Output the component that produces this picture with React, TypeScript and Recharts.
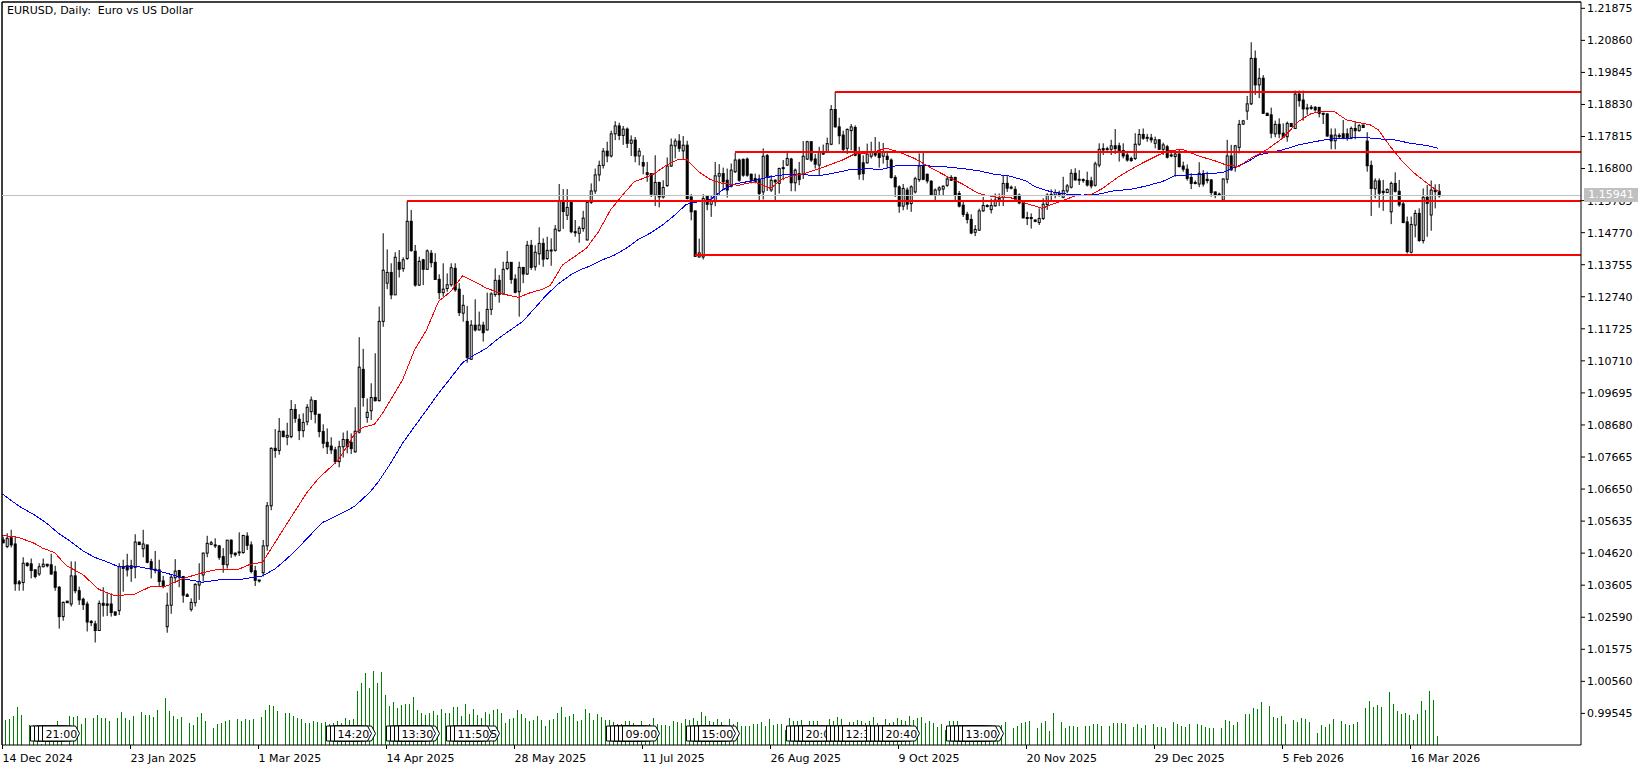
import { Bar, ComposedChart, Line, ReferenceDot, ReferenceLine, XAxis, YAxis } from "recharts"

const FONT = "'DejaVu Sans', sans-serif"

const opens = [
  1.0504,1.0483,1.0511,1.0491,1.0371,1.0369,1.0430,1.0428,1.0409,1.0396,
  1.0419,1.0427,1.0425,1.0403,1.0354,1.0261,1.0310,1.0301,1.0390,1.0343,
  1.0316,1.0301,1.0246,1.0238,1.0217,1.0303,1.0301,1.0301,1.0276,1.0280,
  1.0419,1.0422,1.0422,1.0417,1.0497,1.0476,1.0488,1.0435,1.0411,1.0409,
  1.0374,1.0229,1.0297,1.0384,1.0407,1.0388,1.0330,1.0284,1.0305,1.0361,
  1.0393,1.0462,1.0490,1.0488,1.0485,1.0451,1.0425,1.0503,1.0462,1.0464,
  1.0464,1.0516,1.0488,1.0406,1.0377,1.0400,1.0485,1.0612,1.0794,1.0787,
  1.0848,1.0829,1.0831,1.0917,1.0886,1.0850,1.0878,1.0910,1.0945,1.0902,
  1.0847,1.0813,1.0801,1.0789,1.0752,1.0799,1.0822,1.0813,1.0783,1.0845,
  1.1044,1.0892,1.0913,1.0955,1.0945,1.1196,1.1317,1.1351,1.1280,1.1383,
  1.1363,1.1395,1.1513,1.1418,1.1311,1.1391,1.1361,1.1412,1.1383,1.1329,
  1.1287,1.1300,1.1312,1.1364,1.1298,1.1222,1.1196,1.1076,1.1184,1.1169,
  1.1184,1.1169,1.1234,1.1281,1.1326,1.1283,1.1363,1.1383,1.1330,1.1290,
  1.1367,1.1346,1.1437,1.1369,1.1410,1.1443,1.1395,1.1420,1.1421,1.1483,
  1.1577,1.1532,1.1577,1.1480,1.1475,1.1490,1.1454,1.1573,1.1609,1.1660,
  1.1690,1.1735,1.1720,1.1790,1.1815,1.1785,1.1805,1.1760,1.1770,1.1720,
  1.1699,1.1667,1.1664,1.1596,1.1636,1.1590,1.1626,1.1688,1.1752,1.1767,
  1.1736,1.1754,1.1590,1.1546,1.1400,1.1400,1.1593,1.1567,1.1575,1.1656,
  1.1664,1.1643,1.1624,1.1670,1.1707,1.1709,1.1710,1.1662,1.1648,1.1647,
  1.1606,1.1721,1.1612,1.1643,1.1633,1.1683,1.1691,1.1710,1.1635,1.1664,
  1.1662,1.1710,1.1765,1.1710,1.1691,1.1733,1.1733,1.1757,1.1867,1.1812,
  1.1786,1.1744,1.1800,1.1810,1.1726,1.1698,1.1698,1.1719,1.1730,1.1733,
  1.1719,1.1719,1.1707,1.1652,1.1622,1.1561,1.1612,1.1569,1.1606,1.1645,
  1.1688,1.1662,1.1640,1.1596,1.1612,1.1615,1.1627,1.1652,1.1652,1.1601,
  1.1564,1.1535,1.1519,1.1478,1.1485,1.1546,1.1561,1.1550,1.1562,1.1580,
  1.1588,1.1633,1.1619,1.1614,1.1596,1.1575,1.1525,1.1525,1.1517,1.1509,
  1.1522,1.1566,1.1595,1.1596,1.1602,1.1589,1.1609,1.1621,1.1665,1.1644,
  1.1645,1.1642,1.1641,1.1627,1.1691,1.1743,1.1741,1.1741,1.1752,1.1752,
  1.1737,1.1723,1.1712,1.1712,1.1757,1.1788,1.1776,1.1777,1.1760,1.1771,
  1.1741,1.1749,1.1723,1.1718,1.1726,1.1688,1.1678,1.1652,1.1636,1.1631,
  1.1663,1.1646,1.1644,1.1606,1.1599,1.1580,1.1646,1.1720,1.1684,1.1747,
  1.1821,1.1862,1.1885,1.2029,1.1945,1.1966,1.1855,1.1850,1.1790,1.1820,
  1.1792,1.1781,1.1823,1.1807,1.1916,1.1897,1.1869,1.1874,1.1874,1.1874,
  1.1855,1.1853,1.1786,1.1768,1.1785,1.1790,1.1790,1.1776,1.1807,1.1800,
  1.1818,1.1767,1.1690,1.1616,1.1641,1.1608,1.1604,1.1543,1.1633,1.1608,
  1.1568,1.1511,1.1415,1.1501,1.1538,1.1452,1.1589,1.1533,1.1612,1.1608,
]

const highs = [
  1.0514,1.0525,1.0536,1.0514,1.0377,1.0449,1.0433,1.0445,1.0411,1.0430,
  1.0445,1.0427,1.0460,1.0422,1.0358,1.0309,1.0310,1.0436,1.0436,1.0356,
  1.0321,1.0309,1.0250,1.0248,1.0312,1.0354,1.0335,1.0335,1.0276,1.0430,
  1.0441,1.0460,1.0441,1.0522,1.0497,1.0536,1.0488,1.0444,1.0469,1.0441,
  1.0390,1.0337,1.0393,1.0443,1.0409,1.0390,1.0335,1.0319,1.0367,1.0430,
  1.0464,1.0517,1.0501,1.0509,1.0488,1.0478,1.0504,1.0506,1.0464,1.0528,
  1.0520,1.0528,1.0499,1.0422,1.0377,1.0504,1.0624,1.0797,1.0855,1.0890,
  1.0850,1.0875,1.0947,1.0934,1.0902,1.0905,1.0934,1.0958,1.0947,1.0902,
  1.0870,1.0857,1.0829,1.0799,1.0818,1.0844,1.0850,1.0841,1.0924,1.1146,
  1.1109,1.0952,1.1000,1.1095,1.1243,1.1475,1.1424,1.1380,1.1415,1.1422,
  1.1399,1.1577,1.1549,1.1438,1.1401,1.1394,1.1424,1.1422,1.1412,1.1345,
  1.1380,1.1348,1.1380,1.1380,1.1317,1.1280,1.1245,1.1200,1.1266,1.1227,
  1.1195,1.1287,1.1288,1.1364,1.1343,1.1385,1.1419,1.1383,1.1345,1.1385,
  1.1367,1.1451,1.1454,1.1437,1.1494,1.1459,1.1464,1.1459,1.1501,1.1631,
  1.1615,1.1615,1.1577,1.1517,1.1498,1.1546,1.1575,1.1633,1.1680,1.1705,
  1.1745,1.1765,1.1800,1.1830,1.1825,1.1815,1.1810,1.1785,1.1780,1.1745,
  1.1722,1.1701,1.1664,1.1722,1.1638,1.1643,1.1715,1.1775,1.1775,1.1789,
  1.1783,1.1768,1.1599,1.1546,1.1458,1.1599,1.1596,1.1596,1.1701,1.1694,
  1.1683,1.1680,1.1696,1.1730,1.1712,1.1712,1.1715,1.1664,1.1664,1.1661,
  1.1744,1.1726,1.1659,1.1646,1.1683,1.1707,1.1736,1.1714,1.1680,1.1701,
  1.1767,1.1768,1.1765,1.1726,1.1749,1.1756,1.1778,1.1881,1.1923,1.1841,
  1.1800,1.1807,1.1821,1.1817,1.1749,1.1722,1.1759,1.1765,1.1780,1.1765,
  1.1761,1.1736,1.1712,1.1659,1.1627,1.1631,1.1620,1.1627,1.1654,1.1728,
  1.1733,1.1664,1.1643,1.1617,1.1624,1.1627,1.1654,1.1659,1.1654,1.1609,
  1.1580,1.1543,1.1535,1.1501,1.1553,1.1590,1.1567,1.1585,1.1601,1.1601,
  1.1659,1.1656,1.1626,1.1624,1.1601,1.1580,1.1543,1.1538,1.1519,1.1554,
  1.1586,1.1602,1.1614,1.1614,1.1610,1.1654,1.1631,1.1678,1.1681,1.1675,
  1.1649,1.1670,1.1654,1.1702,1.1760,1.1760,1.1749,1.1771,1.1805,1.1762,
  1.1760,1.1734,1.1718,1.1792,1.1805,1.1807,1.1790,1.1790,1.1781,1.1773,
  1.1762,1.1755,1.1730,1.1739,1.1741,1.1702,1.1693,1.1665,1.1642,1.1700,
  1.1675,1.1670,1.1646,1.1607,1.1604,1.1649,1.1771,1.1755,1.1755,1.1834,
  1.1834,1.1910,1.2080,1.2054,1.1998,1.1976,1.1857,1.1873,1.1832,1.1839,
  1.1823,1.1829,1.1823,1.1927,1.1927,1.1927,1.1885,1.1881,1.1878,1.1874,
  1.1857,1.1855,1.1807,1.1807,1.1792,1.1834,1.1807,1.1813,1.1829,1.1821,
  1.1818,1.1795,1.1705,1.1649,1.1649,1.1644,1.1617,1.1639,1.1668,1.1644,
  1.1580,1.1528,1.1528,1.1549,1.1554,1.1617,1.1628,1.1642,1.1630,1.1631,
]

const lows = [
  1.0493,1.0478,1.0480,1.0343,1.0343,1.0343,1.0419,1.0382,1.0382,1.0390,
  1.0417,1.0417,1.0393,1.0343,1.0223,1.0248,1.0305,1.0293,1.0335,1.0298,
  1.0282,1.0214,1.0231,1.0179,1.0217,1.0261,1.0263,1.0261,1.0263,1.0266,
  1.0340,1.0388,1.0371,1.0382,1.0489,1.0449,1.0430,1.0382,1.0398,1.0356,
  1.0351,1.0210,1.0270,1.0367,1.0354,1.0305,1.0324,1.0277,1.0293,1.0314,
  1.0372,1.0449,1.0487,1.0478,1.0441,1.0400,1.0413,1.0447,1.0451,1.0453,
  1.0460,1.0472,1.0398,1.0358,1.0369,1.0388,1.0470,1.0598,1.0764,1.0774,
  1.0829,1.0804,1.0826,1.0875,1.0820,1.0829,1.0867,1.0884,1.0873,1.0829,
  1.0794,1.0776,1.0776,1.0744,1.0734,1.0765,1.0778,1.0776,1.0780,1.0841,
  1.0926,1.0875,1.0884,1.0942,1.0942,1.1179,1.1298,1.1266,1.1280,1.1335,
  1.1353,1.1391,1.1417,1.1306,1.1308,1.1311,1.1359,1.1367,1.1327,1.1266,
  1.1274,1.1290,1.1306,1.1290,1.1213,1.1195,1.1065,1.1074,1.1164,1.1167,
  1.1132,1.1167,1.1216,1.1274,1.1255,1.1280,1.1359,1.1315,1.1285,1.1211,
  1.1317,1.1343,1.1359,1.1357,1.1375,1.1369,1.1391,1.1372,1.1417,1.1480,
  1.1489,1.1517,1.1475,1.1464,1.1445,1.1480,1.1452,1.1568,1.1600,1.1640,
  1.1680,1.1700,1.1715,1.1770,1.1770,1.1755,1.1745,1.1720,1.1700,1.1690,
  1.1662,1.1638,1.1590,1.1561,1.1557,1.1585,1.1622,1.1685,1.1712,1.1733,
  1.1707,1.1582,1.1516,1.1400,1.1398,1.1392,1.1548,1.1527,1.1561,1.1596,
  1.1612,1.1588,1.1620,1.1666,1.1638,1.1654,1.1654,1.1633,1.1633,1.1580,
  1.1582,1.1609,1.1606,1.1580,1.1601,1.1643,1.1688,1.1608,1.1608,1.1627,
  1.1647,1.1707,1.1701,1.1680,1.1659,1.1723,1.1730,1.1754,1.1810,1.1757,
  1.1733,1.1726,1.1738,1.1719,1.1645,1.1643,1.1696,1.1712,1.1717,1.1683,
  1.1696,1.1680,1.1648,1.1590,1.1540,1.1548,1.1550,1.1543,1.1601,1.1638,
  1.1643,1.1633,1.1593,1.1580,1.1596,1.1596,1.1622,1.1641,1.1578,1.1557,
  1.1527,1.1506,1.1472,1.1466,1.1483,1.1543,1.1557,1.1538,1.1559,1.1561,
  1.1561,1.1606,1.1614,1.1582,1.1567,1.1522,1.1501,1.1490,1.1510,1.1501,
  1.1517,1.1549,1.1580,1.1586,1.1591,1.1586,1.1602,1.1617,1.1642,1.1628,
  1.1635,1.1623,1.1617,1.1623,1.1684,1.1723,1.1737,1.1723,1.1726,1.1702,
  1.1712,1.1702,1.1702,1.1707,1.1752,1.1771,1.1765,1.1762,1.1744,1.1739,
  1.1723,1.1712,1.1716,1.1654,1.1684,1.1670,1.1642,1.1615,1.1630,1.1621,
  1.1623,1.1633,1.1591,1.1586,1.1596,1.1578,1.1633,1.1673,1.1670,1.1728,
  1.1818,1.1834,1.1881,1.1913,1.1903,1.1853,1.1847,1.1776,1.1779,1.1776,
  1.1779,1.1765,1.1813,1.1805,1.1876,1.1832,1.1850,1.1866,1.1860,1.1842,
  1.1821,1.1781,1.1741,1.1741,1.1776,1.1773,1.1768,1.1773,1.1773,1.1797,
  1.1810,1.1670,1.1530,1.1586,1.1556,1.1546,1.1602,1.1504,1.1604,1.1559,
  1.1507,1.1411,1.1411,1.1462,1.1448,1.1443,1.1464,1.1483,1.1554,1.1588,
]

const closes = [
  1.0495,1.0509,1.0488,1.0365,1.0365,1.0430,1.0423,1.0407,1.0388,1.0419,
  1.0427,1.0422,1.0396,1.0354,1.0261,1.0306,1.0305,1.0390,1.0343,1.0314,
  1.0299,1.0244,1.0242,1.0217,1.0303,1.0297,1.0297,1.0274,1.0266,1.0419,
  1.0414,1.0409,1.0414,1.0497,1.0489,1.0491,1.0433,1.0411,1.0407,1.0372,
  1.0356,1.0297,1.0386,1.0405,1.0386,1.0329,1.0325,1.0306,1.0363,1.0372,
  1.0462,1.0493,1.0495,1.0486,1.0449,1.0426,1.0503,1.0460,1.0457,1.0466,
  1.0518,1.0487,1.0404,1.0376,1.0375,1.0485,1.0612,1.0794,1.0787,1.0848,
  1.0831,1.0835,1.0917,1.0889,1.0850,1.0876,1.0924,1.0947,1.0902,1.0847,
  1.0810,1.0799,1.0789,1.0752,1.0799,1.0822,1.0799,1.0793,1.0848,1.1051,
  1.0955,1.0908,1.0955,1.0945,1.1196,1.1358,1.1351,1.1280,1.1399,1.1361,
  1.1391,1.1513,1.1420,1.1311,1.1386,1.1361,1.1419,1.1382,1.1329,1.1287,
  1.1298,1.1312,1.1366,1.1296,1.1224,1.1247,1.1082,1.1184,1.1169,1.1184,
  1.1160,1.1234,1.1283,1.1326,1.1281,1.1361,1.1383,1.1329,1.1288,1.1367,
  1.1346,1.1437,1.1367,1.1415,1.1443,1.1393,1.1421,1.1422,1.1488,1.1577,
  1.1544,1.1557,1.1480,1.1477,1.1491,1.1523,1.1573,1.1609,1.1660,1.1690,
  1.1735,1.1720,1.1790,1.1815,1.1785,1.1805,1.1760,1.1770,1.1720,1.1735,
  1.1688,1.1661,1.1599,1.1636,1.1590,1.1620,1.1688,1.1754,1.1767,1.1744,
  1.1754,1.1585,1.1543,1.1402,1.1413,1.1585,1.1567,1.1577,1.1657,1.1664,
  1.1638,1.1612,1.1675,1.1707,1.1643,1.1659,1.1659,1.1643,1.1638,1.1601,
  1.1719,1.1654,1.1643,1.1638,1.1680,1.1680,1.1712,1.1635,1.1675,1.1645,
  1.1719,1.1765,1.1707,1.1694,1.1733,1.1726,1.1759,1.1867,1.1812,1.1784,
  1.1741,1.1804,1.1812,1.1722,1.1662,1.1664,1.1726,1.1734,1.1723,1.1715,
  1.1732,1.1709,1.1652,1.1622,1.1561,1.1617,1.1567,1.1622,1.1648,1.1688,
  1.1646,1.1641,1.1596,1.1612,1.1619,1.1624,1.1647,1.1643,1.1596,1.1561,
  1.1535,1.1519,1.1476,1.1487,1.1546,1.1563,1.1563,1.1563,1.1580,1.1585,
  1.1633,1.1618,1.1621,1.1585,1.1571,1.1524,1.1523,1.1522,1.1513,1.1522,
  1.1567,1.1596,1.1598,1.1604,1.1598,1.1610,1.1625,1.1665,1.1644,1.1646,
  1.1642,1.1628,1.1625,1.1695,1.1741,1.1739,1.1743,1.1752,1.1743,1.1734,
  1.1720,1.1707,1.1705,1.1757,1.1788,1.1776,1.1779,1.1771,1.1771,1.1741,
  1.1755,1.1716,1.1720,1.1726,1.1686,1.1678,1.1649,1.1633,1.1633,1.1665,
  1.1631,1.1642,1.1604,1.1596,1.1598,1.1647,1.1720,1.1676,1.1752,1.1820,
  1.1831,1.1885,1.2029,1.1945,1.1966,1.1855,1.1848,1.1792,1.1820,1.1790,
  1.1779,1.1823,1.1813,1.1916,1.1895,1.1869,1.1872,1.1871,1.1866,1.1855,
  1.1852,1.1783,1.1768,1.1786,1.1781,1.1776,1.1776,1.1807,1.1800,1.1816,
  1.1810,1.1689,1.1617,1.1641,1.1602,1.1604,1.1614,1.1633,1.1608,1.1565,
  1.1509,1.1417,1.1503,1.1538,1.1452,1.1589,1.1570,1.1612,1.1607,1.1594,
]

// tick volume, in thousands
const volumes = [
  24,25,26,29,38,30,0,20,20,20, 1,20,20,20,24,18,0,29,28,29,
  21,27,0,27,30,27,27,24,0,27, 33,27,25,29,0,33,30,30,28,35,
  1,47,34,29,26,28,0,22,20,28, 32,24,0,17,21,22,24,25,0,26,
  24,26,25,26,0,28,35,40,39,34, 0,32,32,29,27,26,22,22,24,23,
  22,23,21,22,24,22,27,25,26,54, 62,72,57,74,62,73,50,39,43,37,
  40,41,41,48,35,32,30,32,34,30, 36,32,32,38,38,29,41,31,36,30,
  27,33,31,35,36,32,22,26,27,35, 31,27,24,25,29,25,19,25,26,32,
  38,28,29,31,24,25,36,32,25,31, 28,25,25,23,21,21,24,24,22,15,
  24,20,21,27,21,20,20,19,24,23, 22,26,25,27,24,33,29,24,23,26,
  23,15,26,21,23,19,19,19,21,21, 23,19,26,20,21,21,15,27,24,24,
  25,15,24,24,24,20,15,26,24,28, 26,20,23,23,25,24,22,24,28,22,
  15,26,22,23,27,25,24,29,25,27, 28,22,24,22,18,21,15,24,24,24,
  15,15,15,15,15,15,15,15,15,16, 20,23,0,17,19,22,23,24,0,17,
  22,24,14,32,0,23,17,19,19,18, 0,19,19,21,21,19,0,19,22,22,
  22,21,0,18,21,17,20,0,21,18, 18,17,0,23,21,19,18,21,0,21,
  20,18,17,17,0,17,25,24,20,23, 0,31,31,37,36,43,0,39,28,27,
  29,21,0,25,23,27,26,23,0,12, 20,18,21,26,0,24,21,20,21,23,
  0,37,44,38,40,38,1,53,41,34, 31,32,30,25,31,44,35,54,45,9,
]

const redBars = [
  0,4,8,10,13,16,20,24,28,33,37,41,45,50,54,59,62,65,68,72,76,79,84,88,90,93,95,98,100,103,106,109,112,115,118,121,125,129,
  132,135,137,140,143,146,149,152,155,158,160,163,166,169,171,174,177,180,184,188,192,195,198,200,203,206,210,213,217,221,
  224,228,232,236,240,244,248,252,256,260,262,265,268,272,275,279,284,289,292,295,299,303,306,309,312,316,320,324,327,330,
  333,336,339,342,344,347,350,353,356,359,
]
const redValues = [
  1.0518,1.0512,1.0493,1.0478,1.0464,1.0422,1.0395,1.0348,1.0327,1.0332,1.0356,1.0358,1.0381,1.0400,1.0411,1.0411,1.0427,1.0433,1.0493,1.0573,1.0652,1.0699,1.0757,1.0839,1.0860,1.0870,1.0905,1.0968,1.1010,1.1105,1.1169,1.1259,1.1290,1.1340,1.1322,1.1301,1.1283,1.1272,
  1.1287,1.1298,1.1311,1.1375,1.1401,1.1428,1.1480,1.1549,1.1596,1.1639,1.1648,1.1664,1.1691,1.1709,1.1710,1.1670,1.1645,1.1633,1.1627,1.1638,1.1617,1.1648,1.1659,1.1662,1.1675,1.1688,1.1707,1.1726,1.1730,1.1744,
  1.1733,1.1712,1.1683,1.1656,1.1631,1.1601,1.1590,1.1588,1.1569,1.1554,1.1565,1.1578,1.1593,1.1597,1.1617,1.1654,1.1691,1.1723,1.1737,1.1741,1.1720,1.1705,1.1691,1.1686,1.1712,1.1739,1.1776,1.1829,1.1853,1.1862,
  1.1860,1.1834,1.1826,1.1818,1.1802,1.1749,1.1702,1.1665,1.1635,1.1607,
]
const blueBars = [
  0,4,8,11,14,17,20,23,26,29,34,38,42,46,50,54,60,65,68,71,74,77,80,84,88,92,94,97,100,103,106,109,112,115,118,121,124,127,130,133,136,139,142,144,147,150,153,156,159,
  162,165,168,171,174,177,180,183,186,189,192,196,200,204,208,212,216,220,224,228,232,236,240,244,248,252,256,258,262,266,270,274,278,282,286,290,293,297,301,305,308,311,314,317,320,324,328,332,336,340,344,348,352,356,359,
]
const blueValues = [
  1.0649,1.0612,1.0583,1.0557,1.0525,1.0499,1.0470,1.0449,1.0435,1.0419,1.0419,1.0409,1.0395,1.0379,1.0370,1.0377,1.0380,1.0390,1.0411,1.0443,1.0480,1.0520,1.0559,1.0583,1.0610,1.0657,1.0689,1.0746,1.0810,1.0863,1.0915,1.0968,1.1016,1.1065,1.1090,1.1111,1.1142,1.1169,1.1195,1.1237,1.1280,1.1315,1.1343,1.1357,1.1372,1.1391,1.1406,1.1428,1.1456,
  1.1476,1.1501,1.1532,1.1567,1.1575,1.1582,1.1612,1.1631,1.1638,1.1645,1.1654,1.1662,1.1661,1.1657,1.1666,1.1677,1.1679,1.1678,1.1691,1.1690,1.1688,1.1685,1.1680,1.1673,1.1662,1.1656,1.1640,1.1623,1.1607,1.1599,1.1596,1.1599,1.1610,1.1614,1.1625,1.1639,1.1657,1.1660,1.1664,1.1667,1.1684,1.1699,1.1723,1.1731,1.1739,1.1755,1.1765,1.1774,1.1776,1.1779,1.1774,1.1771,1.1760,1.1753,1.1744,
]

const priceTicks = [
  1.21875,1.2086,1.19845,1.1883,1.17815,1.168,1.15785,1.1477,1.13755,1.1274,1.11725,1.1071,
  1.09695,1.0868,1.07665,1.0665,1.05635,1.0462,1.03605,1.0259,1.01575,1.0056,0.99545,
]
const dateTickBars = [0,32,64,96,128,160,192,224,256,288,320,352]
const dateLabels = [
  "14 Dec 2024","23 Jan 2025","1 Mar 2025","14 Apr 2025","28 May 2025","11 Jul 2025",
  "26 Aug 2025","9 Oct 2025","20 Nov 2025","29 Dec 2025","5 Feb 2026","16 Mar 2026",
]

const levelStartBars = [208,183,101,173]
const levelPrices = [1.1923,1.1733,1.1578,1.1407]
const BID = 1.15941

// calendar flags along the bottom, drawn in this order so the later ones cover the earlier ones
const flagBars = [
  7,8,9,10, 81,82,84,83, 96,97,98,100,99, 111,112,115,113, 151,152,153,154,155, 171,172,173,175,174,
  196,197,198,199,200, 206,207,208,209,210, 216,217,218,219,220, 236,237,238,239,241,240,
]
const flagTimes = [
  "","","","21:00", "","","","14:20", "","","","","13:30", "","","11:55","11:50", "","","","","09:00", "","","","","15:00",
  "","","","","20:00", "","","","","12:30", "","","","","20:40", "","","","","","13:00",
]
const flagFills: Record<number, string> = { 9: "#c8f4f8", 152: "#c8f4f8", 174: "#ffc0cb", 175: "#ffc0cb" }

const X_MIN = -0.125
const X_MAX = 394.625
const PRICE_DOMAIN = [0.98544, 1.22075]
const VOLUME_DOMAIN = [0, 743]
const FLAG_LEVEL = 11.5

const table = opens.map((open, bar) => ({
  bar,
  open,
  high: highs[bar],
  low: lows[bar],
  close: closes[bar],
  volume: volumes[bar],
  red: redBars.includes(bar) ? redValues[redBars.indexOf(bar)] : null,
  blue: blueBars.includes(bar) ? blueValues[blueBars.indexOf(bar)] : null,
}))

function Candle({ x, y, width, height, payload }: any) {
  const { open, high, low, close } = payload
  const cx = x + width / 2
  const perUnit = height / (high - low)
  const yOpen = y + (high - open) * perUnit
  const yClose = y + (high - close) * perUnit
  const top = Math.min(yOpen, yClose)
  const body = Math.max(Math.abs(yOpen - yClose), 1)
  return (
    <g>
      <line x1={cx} x2={cx} y1={y} y2={y + height} stroke="#000" strokeWidth={1} />
      <rect x={cx - 1} y={top} width={2} height={body} fill={close >= open ? "#fff" : "#000"} stroke="#000" strokeWidth={1} />
    </g>
  )
}

function VolumeBar({ x, y, width, height }: any) {
  if (!height) return null
  return <line x1={x + width / 2} x2={x + width / 2} y1={y} y2={y + height} stroke="#008000" strokeWidth={1} shapeRendering="crispEdges" />
}

function Flag({ cx, cy, text, fill }: any) {
  const t = cy - 7.5
  const b = cy + 7.5
  return (
    <g>
      <path d={`M${cx},${t} H${cx + 33} L${cx + 37},${cy} L${cx + 33},${b} H${cx} Z`} fill={fill} stroke="#000" strokeWidth={1} />
      {text ? <text x={cx + 3} y={cy + 4} fontSize={11} fontFamily={FONT} fill="#000">{text}</text> : null}
    </g>
  )
}

function DateTick({ x, y, payload }: any) {
  return (
    <text x={x} y={y + 11} fontSize={11} fontFamily={FONT} fill="#000">
      {dateLabels[dateTickBars.indexOf(payload.value)]}
    </text>
  )
}

export default function App() {
  return (
    <div style={{ position: "absolute", left: 0, top: 0, width: 1651, height: 769, background: "#fff" }}>
      <div style={{ position: "absolute", left: 7, top: 4, zIndex: 2, font: `11px ${FONT}`, whiteSpace: "pre", color: "#000" }}>
        {"EURUSD, Daily:  Euro vs US Dollar"}
      </div>
      <div style={{ position: "absolute", left: 1584, top: 188, width: 54, height: 14, zIndex: 2, background: "#c0c0c0", color: "#fff", font: `11px/14px ${FONT}`, textAlign: "center" }}>
        {BID.toFixed(5)}
      </div>
      <ComposedChart width={1651} height={769} data={table} margin={{ top: 2, right: 0, left: 2, bottom: 0 }}>
        <XAxis
          dataKey="bar"
          type="number"
          domain={[X_MIN, X_MAX]}
          ticks={dateTickBars}
          interval={0}
          height={24}
          tick={<DateTick />}
          tickSize={4}
          stroke="#000"
          allowDataOverflow
        />
        <YAxis
          yAxisId="price"
          orientation="right"
          domain={PRICE_DOMAIN}
          ticks={priceTicks}
          interval={0}
          width={70}
          tickSize={4}
          tickMargin={2}
          stroke="#000"
          allowDataOverflow
          tick={{ fill: "#000", fontSize: 11, fontFamily: FONT }}
          tickFormatter={(v: number) => v.toFixed(5)}
        />
        <YAxis yAxisId="volume" hide domain={VOLUME_DOMAIN} allowDataOverflow />
        <Bar yAxisId="volume" dataKey="volume" barSize={1} shape={<VolumeBar />} isAnimationActive={false} />
        <Bar
          yAxisId="price"
          dataKey={(d: any) => [d.low, d.high]}
          barSize={3}
          shape={<Candle />}
          isAnimationActive={false}
        />
        <Line yAxisId="price" dataKey="blue" stroke="#0000ff" strokeWidth={1} dot={false} connectNulls shapeRendering="crispEdges" isAnimationActive={false} />
        <Line yAxisId="price" dataKey="red" stroke="#ff0000" strokeWidth={1} dot={false} connectNulls shapeRendering="crispEdges" isAnimationActive={false} />
        <ReferenceLine yAxisId="price" y={PRICE_DOMAIN[1]} stroke="#000" strokeWidth={1.5} />
        <ReferenceLine yAxisId="price" x={X_MIN} stroke="#000" strokeWidth={1.5} />
        <ReferenceLine yAxisId="price" y={BID} stroke="#c0c0c0" strokeWidth={1} shapeRendering="crispEdges" />
        {levelPrices.map((price, n) => (
          <ReferenceLine
            key={n}
            yAxisId="price"
            stroke="#ff0000"
            strokeWidth={2}
            shapeRendering="crispEdges"
            segment={[{ x: levelStartBars[n], y: price }, { x: X_MAX, y: price }]}
          />
        ))}
        {flagBars.map((bar, n) => (
          <ReferenceDot
            key={n}
            yAxisId="volume"
            x={bar}
            y={FLAG_LEVEL}
            shape={<Flag text={flagTimes[n]} fill={flagFills[bar] ?? "#f8f8f8"} />}
          />
        ))}
      </ComposedChart>
    </div>
  )
}
